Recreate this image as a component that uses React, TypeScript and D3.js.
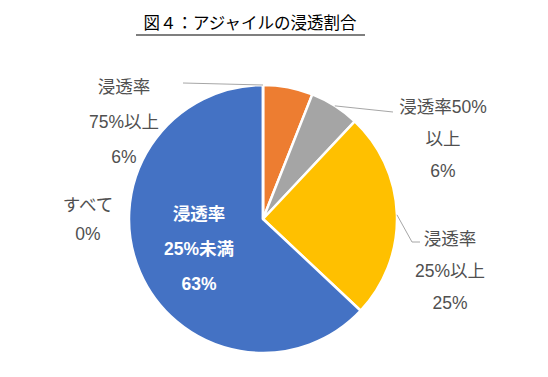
import React from "react";
import * as d3 from "d3";

const title = "図４：アジャイルの浸透割合";
const categories = ["浸透率75%以上", "浸透率50%以上", "浸透率25%以上", "浸透率25%未満", "すべて"];
const values = [6, 6, 25, 63, 0];
const labelLines = [
  ["浸透率", "75%以上", "6%"],
  ["浸透率50%", "以上", "6%"],
  ["浸透率", "25%以上", "25%"],
  ["浸透率", "25%未満", "63%"],
  ["すべて", "0%"],
];
const colors = ["#ED7D31", "#A5A5A5", "#FFC000", "#4472C4", "#5B9BD5"];

// label layout: center x, first line y, leader polyline start (near label)
const labelLayout = [
  { x: 124, y: 87, inside: false, leader: [[183, 83]], angleFrac: 0.0 },
  { x: 443, y: 107, inside: false, leader: [[393, 112]], angleFrac: 0.5 },
  { x: 450, y: 239, inside: false, leader: [[420, 242], [412, 242]], angleFrac: 0.5 },
  { x: 199, y: 214, inside: true, leader: null, angleFrac: 0.5 },
  { x: 88, y: 205, inside: false, leader: null, angleFrac: 0.5 },
];

export default function App() {
  const W = 548, H = 377;
  const cx = 263, cy = 219, r = 134;
  const data = categories.map((c, i) => ({ c, v: values[i], i }));
  const pie = d3.pie<any>().sort(null).value((d) => d.v);
  const arcs = pie(data);
  const arc = d3.arc<any>().innerRadius(0).outerRadius(r);
  const titleFont = "'Noto Sans CJK JP', sans-serif";
  const font = "'Liberation Sans', 'Noto Sans CJK JP', sans-serif";
  const lineGap = [35, 32, 32, 35, 29];
  return (
    <svg width={W} height={H} style={{ position: "absolute", left: 0, top: 0, background: "#fff" }}>
      <text x={250} y={29} textAnchor="middle" fontFamily={titleFont} fontSize={16.5} fontWeight={400} fill="#000">
        {title}
      </text>
      <line x1={136} x2={365} y1={35} y2={35} stroke="#000" strokeWidth={1.2} />
      <g transform={`translate(${cx},${cy})`}>
        {arcs.map((a, i) => (
          <path key={i} d={arc(a) || ""} fill={colors[i]} stroke="#fff" strokeWidth={2.5} strokeLinejoin="round" />
        ))}
      </g>
      {arcs.map((a, i) => {
        const L = labelLayout[i];
        if (!L.leader) return null;
        const ang = a.startAngle + (a.endAngle - a.startAngle) * L.angleFrac;
        const ex = cx + r * Math.sin(ang);
        const ey = cy - r * Math.cos(ang);
        const pts = [...L.leader, [ex, ey]];
        return (
          <polyline key={"l" + i} points={pts.map((p) => p.join(",")).join(" ")} fill="none" stroke="#A6A6A6" strokeWidth={1} />
        );
      })}
      {labelLines.map((lines, i) => {
        const L = labelLayout[i];
        return (
          <text
            key={"t" + i}
            textAnchor="middle"
            fontFamily={font}
            fontSize={17.5}
            fontWeight={L.inside ? 700 : 400}
            fill={L.inside ? "#fff" : "#505050"}
          >
            {lines.map((s, j) => (
              <tspan key={j} x={L.x} y={L.y + j * lineGap[i]} dy="0.35em">
                {s}
              </tspan>
            ))}
          </text>
        );
      })}
    </svg>
  );
}
